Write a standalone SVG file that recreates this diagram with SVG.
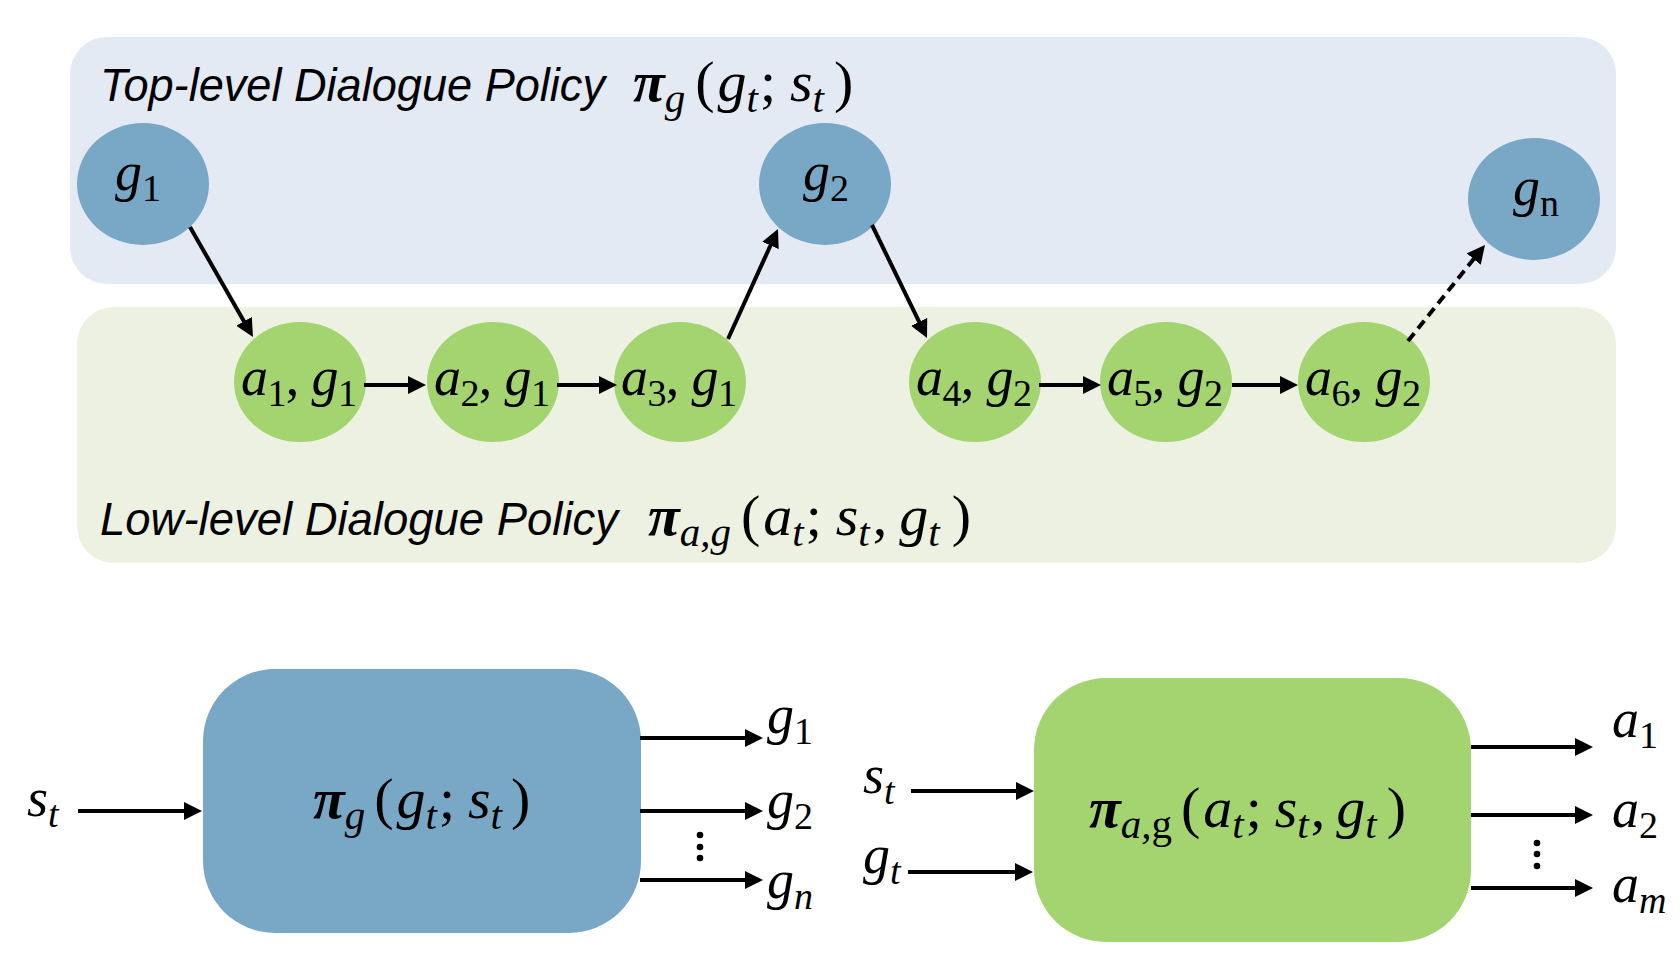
<svg xmlns="http://www.w3.org/2000/svg" width="1680" height="953" viewBox="0 0 1680 953">
<defs>
<marker id="ah" viewBox="0 0 18 18" refX="7" refY="9" markerWidth="18" markerHeight="18" markerUnits="userSpaceOnUse" orient="auto">
<path d="M0,0 L18,9 L0,18 z" fill="#000"/>
</marker>
<style>
.t{font-family:"Liberation Sans",Arial,sans-serif;font-style:italic;font-size:46.5px;fill:#000}
.m{font-family:"Liberation Serif","Times New Roman",serif;font-style:italic;font-size:54px;fill:#000}
.s{font-size:38px}
.f{font-size:58px}
.f .s{font-size:41px}
.r{font-style:normal}
.pi{font-weight:bold}
.bn{fill:#79A7C6}
.gn{fill:#A3D46F}
.c line{stroke:#000;stroke-width:4;marker-end:url(#ah)}
.dash{stroke-dasharray:10 6}
</style>
</defs>
<rect width="1680" height="953" fill="#fff"/>
<g id="top-panel">
<rect x="70" y="37" width="1546" height="247" rx="37" ry="37" fill="#E3EAF4"/>
<text class="t" x="100" y="101" textLength="505" lengthAdjust="spacingAndGlyphs">Top-level Dialogue Policy</text>
<text class="m f" x="633" y="101"><tspan class="pi">π</tspan><tspan class="s" dy="11">g</tspan><tspan class="r" dx="10" dy="-11">(</tspan><tspan dx="3">g</tspan><tspan class="s" dy="11">t</tspan><tspan class="r" dx="2" dy="-11">;</tspan><tspan dx="14">s</tspan><tspan class="s" dy="11">t</tspan><tspan class="r" dx="10" dy="-11">)</tspan></text>
</g>
<g id="low-panel">
<rect x="77" y="307" width="1539" height="256" rx="37" ry="37" fill="#EDF1E2"/>
<text class="t" x="100" y="535" textLength="518" lengthAdjust="spacingAndGlyphs">Low-level Dialogue Policy</text>
<text class="m f" x="648" y="535"><tspan class="pi">π</tspan><tspan class="s" dy="11">a,g</tspan><tspan class="r" dx="10" dy="-11">(</tspan><tspan dx="3">a</tspan><tspan class="s" dy="11">t</tspan><tspan class="r" dx="2" dy="-11">;</tspan><tspan dx="14">s</tspan><tspan class="s" dy="11">t</tspan><tspan class="r" dx="3" dy="-11">,</tspan><tspan dx="12">g</tspan><tspan class="s" dy="11">t</tspan><tspan class="r" dx="12" dy="-11">)</tspan></text>
</g>
<g id="node-g1">
<ellipse class="bn" cx="143" cy="184" rx="66" ry="61"/>
<text class="m" x="138" y="190" text-anchor="middle">g<tspan class="s r" dy="11">1</tspan></text>
</g>
<g id="node-g2">
<ellipse class="bn" cx="825" cy="184" rx="66" ry="61"/>
<text class="m" x="826" y="190" text-anchor="middle">g<tspan class="s r" dy="11">2</tspan></text>
</g>
<g id="node-gn">
<ellipse class="bn" cx="1534" cy="199" rx="66" ry="61"/>
<text class="m" x="1536" y="205" text-anchor="middle">g<tspan class="s r" dy="11">n</tspan></text>
</g>
<g id="node-a1g1">
<ellipse class="gn" cx="300" cy="382" rx="66" ry="60"/>
<text class="m" x="299" y="395" text-anchor="middle" textLength="116" lengthAdjust="spacing">a<tspan class="s r" dy="11">1</tspan><tspan class="r" dy="-11">, </tspan>g<tspan class="s r" dy="11">1</tspan></text>
</g>
<g id="node-a2g1">
<ellipse class="gn" cx="493" cy="382" rx="66" ry="60"/>
<text class="m" x="492" y="395" text-anchor="middle" textLength="116" lengthAdjust="spacing">a<tspan class="s r" dy="11">2</tspan><tspan class="r" dy="-11">, </tspan>g<tspan class="s r" dy="11">1</tspan></text>
</g>
<g id="node-a3g1">
<ellipse class="gn" cx="680" cy="382" rx="66" ry="60"/>
<text class="m" x="679" y="395" text-anchor="middle" textLength="116" lengthAdjust="spacing">a<tspan class="s r" dy="11">3</tspan><tspan class="r" dy="-11">, </tspan>g<tspan class="s r" dy="11">1</tspan></text>
</g>
<g id="node-a4g2">
<ellipse class="gn" cx="975" cy="382" rx="66" ry="60"/>
<text class="m" x="974" y="395" text-anchor="middle" textLength="116" lengthAdjust="spacing">a<tspan class="s r" dy="11">4</tspan><tspan class="r" dy="-11">, </tspan>g<tspan class="s r" dy="11">2</tspan></text>
</g>
<g id="node-a5g2">
<ellipse class="gn" cx="1166" cy="382" rx="66" ry="60"/>
<text class="m" x="1165" y="395" text-anchor="middle" textLength="116" lengthAdjust="spacing">a<tspan class="s r" dy="11">5</tspan><tspan class="r" dy="-11">, </tspan>g<tspan class="s r" dy="11">2</tspan></text>
</g>
<g id="node-a6g2">
<ellipse class="gn" cx="1364" cy="382" rx="66" ry="60"/>
<text class="m" x="1363" y="395" text-anchor="middle" textLength="116" lengthAdjust="spacing">a<tspan class="s r" dy="11">6</tspan><tspan class="r" dy="-11">, </tspan>g<tspan class="s r" dy="11">2</tspan></text>
</g>
<g id="box-top-policy">
<rect class="bn" x="203" y="669" width="438" height="264" rx="72" ry="72"/>
<text class="m f" x="313" y="818"><tspan class="pi">π</tspan><tspan class="s" dy="11">g</tspan><tspan class="r" dx="9" dy="-11">(</tspan><tspan dx="3">g</tspan><tspan class="s" dy="11">t</tspan><tspan class="r" dx="2" dy="-11">;</tspan><tspan dx="13">s</tspan><tspan class="s" dy="11">t</tspan><tspan class="r" dx="9" dy="-11">)</tspan></text>
</g>
<g id="box-low-policy">
<rect class="gn" x="1034" y="678" width="437" height="264" rx="72" ry="72"/>
<text class="m f" x="1089" y="827"><tspan class="pi">π</tspan><tspan class="s" dy="11">a,</tspan><tspan class="s r">g</tspan><tspan class="r" dx="9" dy="-11">(</tspan><tspan dx="3">a</tspan><tspan class="s" dy="11">t</tspan><tspan class="r" dx="2" dy="-11">;</tspan><tspan dx="13">s</tspan><tspan class="s" dy="11">t</tspan><tspan class="r" dx="2" dy="-11">,</tspan><tspan dx="11">g</tspan><tspan class="s" dy="11">t</tspan><tspan class="r" dx="10" dy="-11">)</tspan></text>
</g>
<g id="io-labels">
<text class="m" x="27" y="816">s<tspan class="s" dy="11">t</tspan></text>
<text class="m" x="767" y="733">g<tspan class="s r" dy="11">1</tspan></text>
<text class="m" x="767" y="818">g<tspan class="s r" dy="11">2</tspan></text>
<text class="m" x="767" y="898">g<tspan class="s" dy="11">n</tspan></text>
<text class="m" x="863" y="793">s<tspan class="s" dy="11">t</tspan></text>
<text class="m" x="863" y="873">g<tspan class="s" dy="11">t</tspan></text>
<text class="m" x="1612" y="737">a<tspan class="s r" dy="11">1</tspan></text>
<text class="m" x="1612" y="827">a<tspan class="s r" dy="11">2</tspan></text>
<text class="m" x="1612" y="902">a<tspan class="s" dy="11">m</tspan></text>
<circle cx="700" cy="835" r="3.3"/>
<circle cx="700" cy="847" r="3.3"/>
<circle cx="700" cy="858" r="3.3"/>
<circle cx="1537" cy="843" r="3.3"/>
<circle cx="1537" cy="854" r="3.3"/>
<circle cx="1537" cy="866" r="3.3"/>
</g>
<g id="connectors" class="c">
<line x1="190" y1="227" x2="247.5" y2="327.4"/>
<line x1="728" y1="339" x2="773.4" y2="239"/>
<line x1="872" y1="225" x2="922.2" y2="328.1"/>
<line class="dash" x1="1408" y1="341" x2="1478.1" y2="253.6"/>
<line x1="364" y1="385" x2="415" y2="385"/>
<line x1="557" y1="385" x2="606" y2="385"/>
<line x1="1039" y1="385" x2="1090" y2="385"/>
<line x1="1232" y1="385" x2="1287" y2="385"/>
<line x1="78" y1="811" x2="191" y2="811"/>
<line x1="640" y1="738" x2="752" y2="738"/>
<line x1="640" y1="811" x2="752" y2="811"/>
<line x1="640" y1="880" x2="752" y2="880"/>
<line x1="911" y1="791" x2="1023" y2="791"/>
<line x1="908" y1="872" x2="1022" y2="872"/>
<line x1="1471" y1="747" x2="1582" y2="747"/>
<line x1="1471" y1="815" x2="1582" y2="815"/>
<line x1="1471" y1="888" x2="1582" y2="888"/>
</g>
</svg>
